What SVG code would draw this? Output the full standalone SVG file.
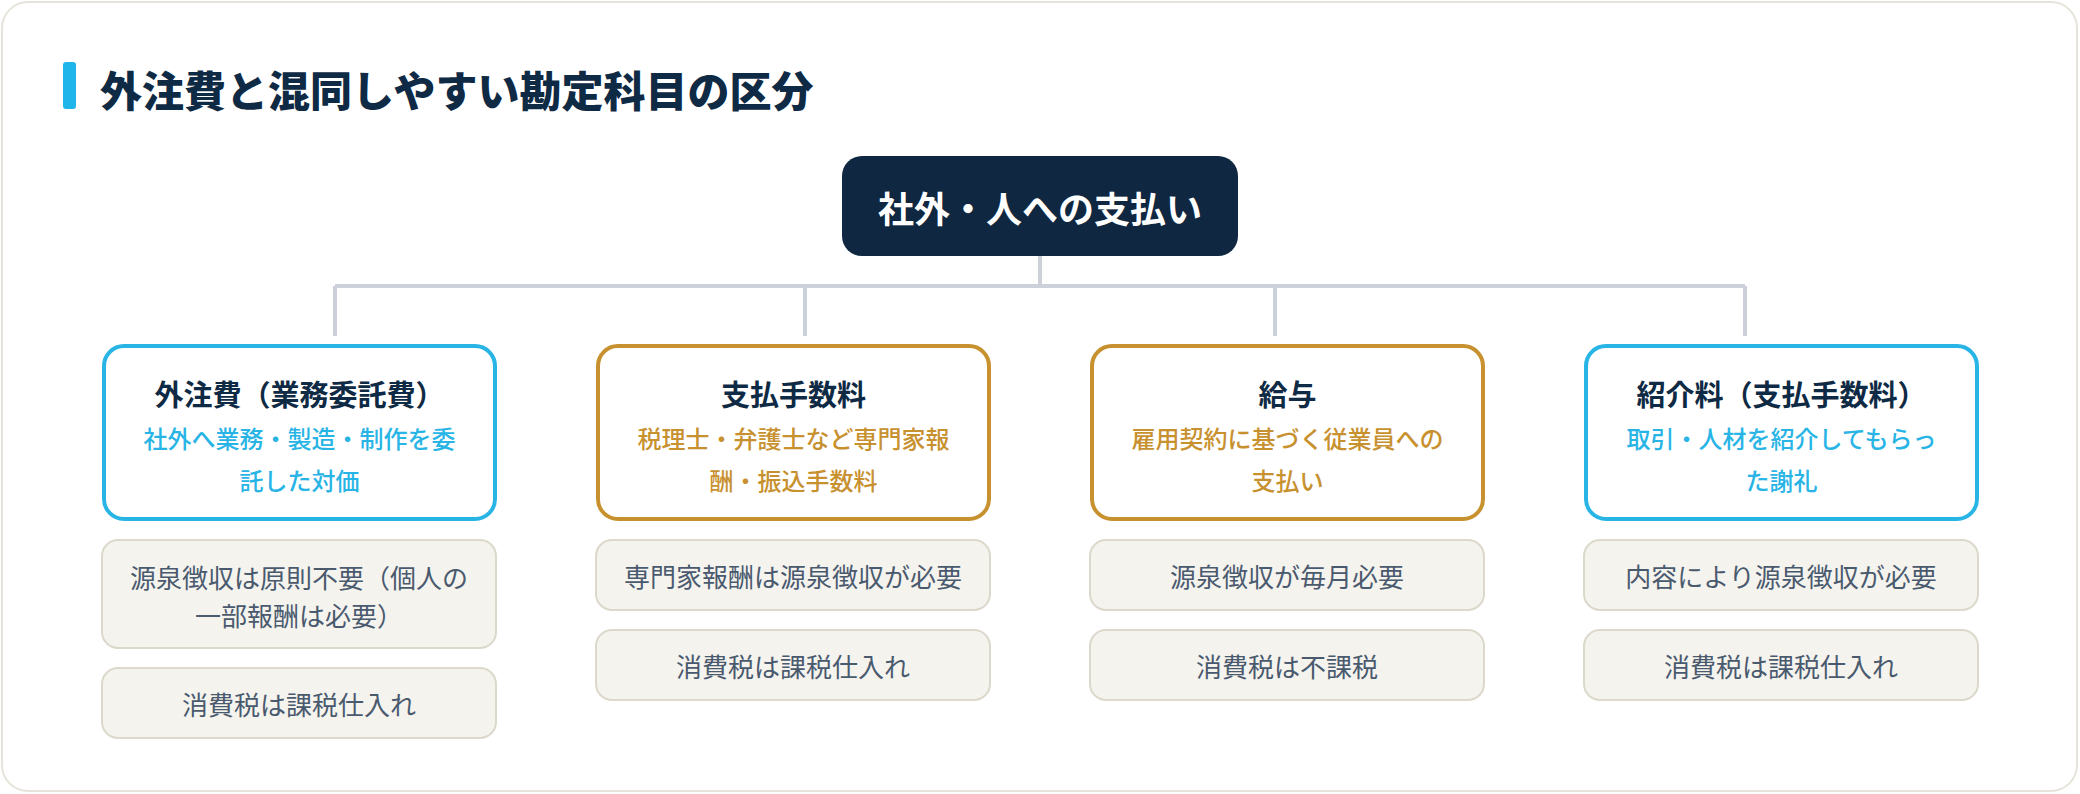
<svg xmlns="http://www.w3.org/2000/svg" width="2080" height="794" viewBox="0 0 2080 794">
<style>
text{font-family:"Noto Sans CJK JP","Noto Sans CJK SC",sans-serif;text-anchor:middle;dominant-baseline:central}
.title{font-size:42px;font-weight:900;fill:#0f2a44;text-anchor:start}
.root-t{font-size:36px;font-weight:700;fill:#ffffff}
.ct{font-size:29px;font-weight:700;fill:#0f2a44}
.sb{font-size:24px;font-weight:500;fill:#29b4e6}
.sg{font-size:24px;font-weight:500;fill:#c8912f}
.cb{fill:#ffffff;stroke:#29b4e6;stroke-width:4}
.cg{fill:#ffffff;stroke:#c8912f;stroke-width:4}
.nb{fill:#f5f3ee;stroke:#dcd8cb;stroke-width:2}
.nt{font-size:26px;font-weight:400;fill:#4a5a6e}
.ln{fill:none;stroke:#cbd0d9;stroke-width:4}
</style>
<rect x="2" y="2" width="2075" height="789" rx="26" fill="#ffffff" stroke="#e6e3da" stroke-width="2"/>
<g id="title">
<rect x="63" y="62" width="13" height="47" rx="3" fill="#1fb5ea"/>
<text class="title" x="100" y="88">外注費と混同しやすい勘定科目の区分</text>
</g>
<g id="connectors">
<path class="ln" d="M1040 256 V286 M335 286 H1745 M335 286 V336 M805 286 V336 M1275 286 V336 M1745 286 V336"/>
</g>
<g id="root">
<rect x="842" y="156" width="396" height="100" rx="20" fill="#0f2740"/>
<text class="root-t" x="1040" y="207">社外・人への支払い</text>
</g>
<g id="card1">
<rect class="cb" x="104" y="346" width="391" height="173" rx="20"/>
<text class="ct" x="299.5" y="393">外注費（業務委託費）</text>
<text class="sb" x="299.5" y="437.5">社外へ業務・製造・制作を委</text>
<text class="sb" x="299.5" y="479.5">託した対価</text>
</g>
<g id="card1-note1">
<rect class="nb" x="102" y="540" width="394" height="108" rx="16"/>
<text class="nt" x="299" y="576">源泉徴収は原則不要（個人の</text>
<text class="nt" x="299" y="614.5">一部報酬は必要）</text>
</g>
<g id="card1-note2">
<rect class="nb" x="102" y="668" width="394" height="70" rx="16"/>
<text class="nt" x="299" y="703">消費税は課税仕入れ</text>
</g>
<g id="card2">
<rect class="cg" x="598" y="346" width="391" height="173" rx="20"/>
<text class="ct" x="793.5" y="393">支払手数料</text>
<text class="sg" x="793.5" y="437.5">税理士・弁護士など専門家報</text>
<text class="sg" x="793.5" y="479.5">酬・振込手数料</text>
</g>
<g id="card2-note1">
<rect class="nb" x="596" y="540" width="394" height="70" rx="16"/>
<text class="nt" x="793" y="575">専門家報酬は源泉徴収が必要</text>
</g>
<g id="card2-note2">
<rect class="nb" x="596" y="630" width="394" height="70" rx="16"/>
<text class="nt" x="793" y="665">消費税は課税仕入れ</text>
</g>
<g id="card3">
<rect class="cg" x="1092" y="346" width="391" height="173" rx="20"/>
<text class="ct" x="1287.5" y="393">給与</text>
<text class="sg" x="1287.5" y="437.5">雇用契約に基づく従業員への</text>
<text class="sg" x="1287.5" y="479.5">支払い</text>
</g>
<g id="card3-note1">
<rect class="nb" x="1090" y="540" width="394" height="70" rx="16"/>
<text class="nt" x="1287" y="575">源泉徴収が毎月必要</text>
</g>
<g id="card3-note2">
<rect class="nb" x="1090" y="630" width="394" height="70" rx="16"/>
<text class="nt" x="1287" y="665">消費税は不課税</text>
</g>
<g id="card4">
<rect class="cb" x="1586" y="346" width="391" height="173" rx="20"/>
<text class="ct" x="1781.5" y="393">紹介料（支払手数料）</text>
<text class="sb" x="1781.5" y="437.5">取引・人材を紹介してもらっ</text>
<text class="sb" x="1781.5" y="479.5">た謝礼</text>
</g>
<g id="card4-note1">
<rect class="nb" x="1584" y="540" width="394" height="70" rx="16"/>
<text class="nt" x="1781" y="575">内容により源泉徴収が必要</text>
</g>
<g id="card4-note2">
<rect class="nb" x="1584" y="630" width="394" height="70" rx="16"/>
<text class="nt" x="1781" y="665">消費税は課税仕入れ</text>
</g>
</svg>
